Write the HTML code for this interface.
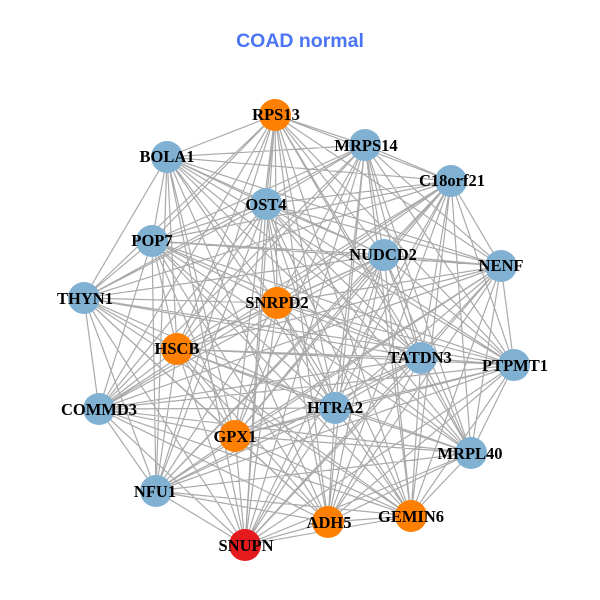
<!DOCTYPE html>
<html><head><meta charset="utf-8"><title>COAD normal</title>
<style>html,body{margin:0;padding:0;background:#fff}svg{display:block}
.n{font:bold 16.5px "Liberation Serif",serif;fill:#000;text-anchor:middle}</style></head>
<body>
<svg width="600" height="600" viewBox="0 0 600 600" xmlns="http://www.w3.org/2000/svg">
<rect width="600" height="600" fill="#fff"/>
<text x="300" y="47" text-anchor="middle" style="font:bold 19.5px 'Liberation Sans',sans-serif" fill="#4b75f5">COAD normal</text>
<path fill="none" stroke="#aaaaaa" stroke-width="1.2" d="
M275 115L365 145M275 115L451 181M275 115L167 157M275 115L266 204M275 115L152 241M275 115L384 255M275 115L501 266M275 115L84 298M275 115L277 303M275 115L177 349M275 115L421 358M275 115L514 365M275 115L99 409M275 115L335 408M275 115L235 436M275 115L471 453M275 115L156 491M275 115L411 516M275 115L328 522M275 115L245 545
M365 145L167 157M365 145L451 181M365 145L266 204M365 145L152 241M365 145L384 255M365 145L501 266M365 145L84 298M365 145L277 303M365 145L177 349M365 145L421 358M365 145L514 365M365 145L99 409M365 145L335 408M365 145L235 436M365 145L471 453M365 145L411 516M365 145L328 522M365 145L245 545
M167 157L451 181M167 157L266 204M167 157L152 241M167 157L384 255M167 157L501 266M167 157L84 298M167 157L277 303M167 157L177 349M167 157L421 358M167 157L514 365M167 157L335 408M167 157L235 436M167 157L471 453M167 157L156 491M167 157L328 522M167 157L245 545
M451 181L266 204M451 181L152 241M451 181L384 255M451 181L501 266M451 181L84 298M451 181L277 303M451 181L177 349M451 181L421 358M451 181L514 365M451 181L99 409M451 181L335 408M451 181L235 436M451 181L471 453M451 181L156 491M451 181L411 516M451 181L328 522M451 181L245 545
M266 204L152 241M266 204L384 255M266 204L501 266M266 204L84 298M266 204L277 303M266 204L177 349M266 204L421 358M266 204L514 365M266 204L99 409M266 204L335 408M266 204L471 453M266 204L156 491M266 204L411 516M266 204L328 522M266 204L245 545
M152 241L384 255M152 241L501 266M152 241L84 298M152 241L277 303M152 241L177 349M152 241L421 358M152 241L514 365M152 241L99 409M152 241L335 408M152 241L235 436M152 241L471 453M152 241L156 491M152 241L411 516M152 241L328 522
M384 255L501 266M384 255L84 298M384 255L277 303M384 255L177 349M384 255L421 358M384 255L514 365M384 255L99 409M384 255L335 408M384 255L235 436M384 255L471 453M384 255L156 491M384 255L411 516M384 255L328 522M384 255L245 545
M501 266L277 303M501 266L177 349M501 266L421 358M501 266L514 365M501 266L99 409M501 266L335 408M501 266L235 436M501 266L471 453M501 266L156 491M501 266L411 516M501 266L328 522M501 266L245 545
M84 298L277 303M84 298L177 349M84 298L421 358M84 298L514 365M84 298L99 409M84 298L335 408M84 298L235 436M84 298L156 491M84 298L411 516M84 298L328 522M84 298L245 545
M277 303L177 349M277 303L421 358M277 303L514 365M277 303L99 409M277 303L335 408M277 303L235 436M277 303L471 453M277 303L156 491M277 303L411 516M277 303L245 545
M177 349L421 358M177 349L514 365M177 349L99 409M177 349L335 408M177 349L235 436M177 349L471 453M177 349L156 491M177 349L411 516M177 349L328 522M177 349L245 545
M421 358L514 365M421 358L99 409M421 358L335 408M421 358L235 436M421 358L471 453M421 358L156 491M421 358L411 516M421 358L328 522M421 358L245 545
M514 365L99 409M514 365L335 408M514 365L235 436M514 365L471 453M514 365L156 491M514 365L411 516M514 365L328 522M514 365L245 545
M99 409L335 408M99 409L235 436M99 409L471 453M99 409L156 491M99 409L411 516M99 409L328 522M99 409L245 545
M335 408L235 436M335 408L471 453M335 408L156 491M335 408L411 516M335 408L328 522M335 408L245 545
M235 436L471 453M235 436L156 491M235 436L411 516M235 436L328 522M235 436L245 545
M471 453L156 491M471 453L411 516M471 453L328 522M471 453L245 545
M156 491L411 516M156 491L328 522M156 491L245 545
M411 516L328 522M411 516L245 545M328 522L245 545"/>
<g fill="#80b1d3">
<circle cx="365" cy="145" r="16"/><circle cx="167" cy="157" r="16"/><circle cx="451" cy="181" r="16"/><circle cx="266" cy="204" r="16"/><circle cx="152" cy="241" r="16"/><circle cx="384" cy="255" r="16"/><circle cx="501" cy="266" r="16"/><circle cx="84" cy="298" r="16"/><circle cx="421" cy="358" r="16"/><circle cx="514" cy="365" r="16"/><circle cx="99" cy="409" r="16"/><circle cx="335" cy="408" r="16"/><circle cx="471" cy="453" r="16"/><circle cx="156" cy="491" r="16"/>
</g>
<g fill="#ff7f00">
<circle cx="275" cy="115" r="16"/><circle cx="277" cy="303" r="16"/><circle cx="177" cy="349" r="16"/><circle cx="235" cy="436" r="16"/><circle cx="411" cy="516" r="16"/><circle cx="328" cy="522" r="16"/>
</g>
<circle cx="245" cy="545" r="16" fill="#e41a1c"/>
<g class="l">
<text class="n" x="276" y="120">RPS13</text>
<text class="n" x="366" y="151">MRPS14</text>
<text class="n" x="167" y="162">BOLA1</text>
<text class="n" x="452" y="186">C18orf21</text>
<text class="n" x="266" y="210">OST4</text>
<text class="n" x="152" y="246">POP7</text>
<text class="n" x="383" y="260">NUDCD2</text>
<text class="n" x="501" y="271">NENF</text>
<text class="n" x="85" y="304">THYN1</text>
<text class="n" x="277" y="308">SNRPD2</text>
<text class="n" x="177" y="354">HSCB</text>
<text class="n" x="420" y="363">TATDN3</text>
<text class="n" x="515" y="371">PTPMT1</text>
<text class="n" x="99" y="415">COMMD3</text>
<text class="n" x="335" y="413">HTRA2</text>
<text class="n" x="235" y="442">GPX1</text>
<text class="n" x="470" y="459">MRPL40</text>
<text class="n" x="155" y="497">NFU1</text>
<text class="n" x="411" y="522">GEMIN6</text>
<text class="n" x="329" y="528">ADH5</text>
<text class="n" x="246" y="551">SNUPN</text>
</g>
</svg>
</body></html>
